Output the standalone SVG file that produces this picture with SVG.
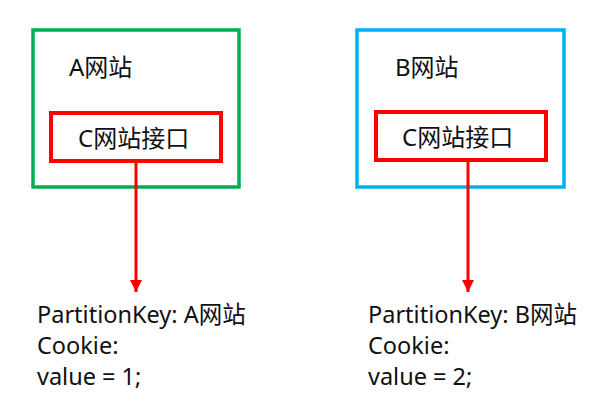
<svg xmlns="http://www.w3.org/2000/svg" width="598" height="416" viewBox="0 0 598 416">
<style>
text{font-family:"Noto Sans","Noto Sans CJK SC",sans-serif;font-size:24px;fill:#111}
.res{font-size:23.5px}
.outer{fill:none;stroke-width:3.5}
.inner{fill:none;stroke:#ff0000;stroke-width:4}
.conn{stroke:#ff0000;stroke-width:3;fill:none}
</style>
<defs>
<marker id="arr" markerWidth="4" markerHeight="4" refX="4" refY="2" orient="auto" markerUnits="strokeWidth">
<path d="M0,0 L4,2 L0,4 Z" fill="#ff0000"/>
</marker>
</defs>
<g id="siteA">
<rect class="outer" x="33" y="30" width="206" height="157" stroke="#00b050"/>
<text x="69" y="76">A网站</text>
</g>
<g id="ifaceA">
<rect class="inner" x="51" y="113" width="170" height="48"/>
<text x="78" y="147">C网站接口</text>
</g>
<g id="siteB">
<rect class="outer" x="357" y="30" width="207" height="157" stroke="#00b0f0"/>
<text x="395" y="76">B网站</text>
</g>
<g id="ifaceB">
<rect class="inner" x="376" y="112" width="170" height="48"/>
<text x="402" y="146">C网站接口</text>
</g>
<g id="connectors">
<line class="conn" x1="136" y1="163" x2="136" y2="292" marker-end="url(#arr)"/>
<line class="conn" x1="468" y1="162" x2="468" y2="292" marker-end="url(#arr)"/>
</g>
<g id="resultA">
<text class="res" x="37" y="323">PartitionKey: A网站</text>
<text class="res" x="37" y="354">Cookie:</text>
<text class="res" x="37" y="385">value = 1;</text>
</g>
<g id="resultB">
<text class="res" x="368" y="323">PartitionKey: B网站</text>
<text class="res" x="368" y="354">Cookie:</text>
<text class="res" x="368" y="385">value = 2;</text>
</g>
</svg>
